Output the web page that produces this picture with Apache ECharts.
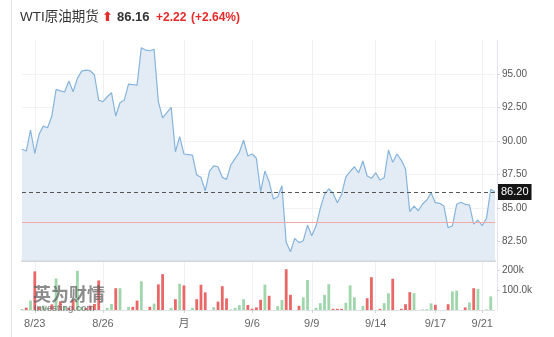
<!DOCTYPE html>
<html><head><meta charset="utf-8">
<script src="https://cdn.jsdelivr.net/npm/echarts@6/dist/echarts.min.js"></script>
<style>html,body{margin:0;padding:0;background:#fff}#c{width:554px;height:337px}</style>
</head><body><div id="c"></div>
<script>
// ---- data ----
const titleName = 'WTI原油期货';
const quotePrice = '86.16';
const quoteChange = '+2.22';
const quotePct = '(+2.64%)';

const prices = [
  89.39, 89.26, 90.83, 89.09, 90.51, 91.12, 91.00, 91.87, 93.86, 93.75,
  93.66, 94.48, 93.68, 94.68, 95.22, 95.30, 95.25, 94.93, 93.06, 92.94,
  93.31, 93.61, 91.87, 92.86, 93.06, 94.25, 94.22, 94.18, 96.96, 96.79,
  96.74, 96.84, 92.94, 91.74, 92.13, 92.52, 89.21, 90.33, 89.04, 89.00,
  88.96, 87.47, 87.30, 86.30, 87.77, 88.16, 88.09, 87.30, 87.15, 88.22,
  88.69, 89.16, 90.08, 88.89, 89.04, 88.72, 86.23, 87.77, 86.97, 85.68,
  85.85, 86.67, 82.46, 81.75, 82.75, 82.43, 82.57, 83.74, 82.95, 83.67,
  84.99, 86.03, 86.45, 86.11, 85.41, 86.03, 87.34, 87.72, 88.09, 87.64,
  88.52, 87.40, 87.23, 87.64, 87.10, 87.27, 89.34, 88.42, 89.04, 88.59,
  87.92, 84.74, 85.16, 84.81, 85.31, 85.61, 86.15, 85.41, 85.36, 85.16,
  83.54, 83.69, 85.29, 85.44, 85.29, 85.24, 83.82, 84.12, 83.69, 84.24,
  86.41, 86.20
];
// volume in thousands
const volumesK = [
  5, 12, 47, 193, 15, 22, 10, 28, 158, 43,
  20, 10, 52, 196, 15, 10, 22, 30, 148, 0,
  10, 30, 109, 109, 0, 15, 16, 47, 143, 0,
  16, 32, 128, 179, 0, 11, 54, 131, 123, 0,
  11, 54, 126, 88, 0, 14, 42, 119, 58, 3,
  10, 24, 54, 25, 6, 13, 51, 127, 71, 0,
  19, 50, 204, 76, 0, 21, 63, 150, 0, 11,
  34, 76, 129, 6, 6, 6, 36, 123, 63, 0,
  21, 59, 164, 0, 6, 34, 84, 156, 0, 6,
  29, 89, 84, 0, 3, 4, 33, 26, 0, 0,
  29, 93, 97, 0, 13, 38, 109, 105, 0, 3,
  68, 0
];
// r = red bar, g = green bar
const volumeDir = [
  'g','r','g','r','r','g','g','r','g','r',
  'g','r','r','g','g','r','r','r','r','g',
  'g','g','r','g','g','g','r','r','g','g',
  'r','g','r','r','g','g','r','g','r','g',
  'g','r','r','r','g','g','r','r','r','g',
  'g','g','g','r','r','r','r','g','r','g',
  'g','g','r','r','g','r','g','g','g','g',
  'g','g','g','r','r','r','g','g','g','g',
  'g','r','r','g','r','g','g','r','g','r',
  'r','r','g','g','g','g','g','r','g','g',
  'r','g','g','g','r','g','r','g','g','g',
  'g','g'
];
const xTickIndex = [3, 19, 38, 54, 68, 83, 97, 108];
const xTickLabels = ['8/23', '8/26', '月', '9/6', '9/9', '9/14', '9/17', '9/21'];
const priceTicks = [82.5, 85, 87.5, 90, 92.5, 95];
const volumeTicks = [100000, 200000];
const volumeTickLabels = ['100.0k', '200k'];
const lastPrice = 86.20;
const prevClose = 83.94;

// ---- chart ----
const RED = '#e96767', GREEN = '#9fd6ac';
const FONT = '"Liberation Sans", Arial, "Noto Sans CJK SC", sans-serif';
const cats = prices.map((_, i) => String(i));
const labelAt = {};
xTickIndex.forEach((k, j) => { labelAt[k] = xTickLabels[j]; });
const isTick = (i) => labelAt[i] !== undefined;
const volLabel = {};
volumeTicks.forEach((v, j) => { volLabel[v] = volumeTickLabels[j]; });

const chart = echarts.init(document.getElementById('c'), null, {renderer: 'canvas'});
const option = {
  animation: false,
  textStyle: {fontFamily: FONT},
  grid: [
    {left: 22, right: 59, top: 40, bottom: 76.5},
    {left: 22, right: 59, top: 261, bottom: 27}
  ],
  xAxis: [
    {type: 'category', gridIndex: 0, data: cats, boundaryGap: false,
     axisLine: {show: true, lineStyle: {color: '#d3d7dc', width: 2}},
     axisTick: {show: false}, axisLabel: {show: false},
     splitLine: {show: true, interval: (i) => isTick(i), lineStyle: {color: '#eef0f3'}}},
    {type: 'category', gridIndex: 1, data: cats, boundaryGap: false,
     axisLine: {show: true, lineStyle: {color: '#dfe2e6'}},
     axisTick: {show: true, interval: (i) => isTick(i), length: 3, lineStyle: {color: '#cfd3d8'}},
     axisLabel: {interval: (i) => isTick(i), formatter: (v, i) => labelAt[i] || '', color: '#666', fontSize: 11, margin: 8, fontFamily: FONT},
     splitLine: {show: true, interval: (i) => isTick(i), lineStyle: {color: '#eef0f3'}}}
  ],
  yAxis: [
    {type: 'value', gridIndex: 0, position: 'right', offset: 2, min: 81.1, max: 97.54,
     axisLine: {show: true, lineStyle: {color: '#e2e5e9'}},
     axisTick: {show: true, length: 3, customValues: priceTicks, lineStyle: {color: '#d5d8dc'}},
     axisLabel: {customValues: priceTicks, formatter: (v) => v.toFixed(2), color: '#555', fontSize: 10, margin: 5, fontFamily: FONT},
     splitLine: {show: true, customValues: priceTicks, lineStyle: {color: '#f1f2f4'}}},
    {type: 'value', gridIndex: 1, position: 'right', offset: 2, min: 0, max: 245000,
     axisLine: {show: true, lineStyle: {color: '#e2e5e9'}},
     axisTick: {show: true, length: 3, customValues: volumeTicks, lineStyle: {color: '#d5d8dc'}},
     axisLabel: {customValues: volumeTicks, formatter: (v) => volLabel[v] || '', color: '#555', fontSize: 10, margin: 5, fontFamily: FONT},
     splitLine: {show: false}}
  ],
  series: [
    {type: 'line', xAxisIndex: 0, yAxisIndex: 0, data: prices, symbol: 'none',
     lineStyle: {color: '#86b4db', width: 1.2},
     areaStyle: {color: '#e3ecf5', origin: 'start', opacity: 1},
     markLine: {symbol: 'none', silent: true, animation: false,
       data: [
         {yAxis: lastPrice, lineStyle: {type: [4, 3], color: '#555', width: 1},
          label: {show: true, position: 'end', distance: 3, formatter: lastPrice.toFixed(2),
                  backgroundColor: '#151515', color: '#fff', padding: [3, 3, 2, 3], fontSize: 11, fontFamily: FONT}},
         {yAxis: prevClose, lineStyle: {type: 'solid', color: '#f6a9a9', width: 1}, label: {show: false}}
       ]}},
    {type: 'bar', xAxisIndex: 1, yAxisIndex: 1, barWidth: 2.8,
     data: volumesK.map((v, i) => ({value: v * 1000, itemStyle: {color: volumeDir[i] === 'r' ? RED : GREEN}}))}
  ],
  graphic: [
    {type: 'line', shape: {x1: 11.5, y1: 0, x2: 11.5, y2: 337}, style: {stroke: '#e3e3e3', lineWidth: 1}, silent: true},
    {type: 'text', x: 20, y: 17.5, style: {text: titleName, font: '13.5px ' + FONT, fill: '#333', verticalAlign: 'middle'}},
    {type: 'text', x: 102, y: 17.5, style: {text: '⬆', font: 'bold 13px "DejaVu Sans"', fill: '#e62a2a', verticalAlign: 'middle'}},
    {type: 'text', x: 117, y: 17.5, style: {text: quotePrice, font: 'bold 13px ' + FONT, fill: '#333', verticalAlign: 'middle'}},
    {type: 'text', x: 156, y: 17.5, style: {text: quoteChange, font: 'bold 12px ' + FONT, fill: '#e62a2a', verticalAlign: 'middle'}},
    {type: 'text', x: 191, y: 17.5, style: {text: quotePct, font: 'bold 12px ' + FONT, fill: '#e62a2a', verticalAlign: 'middle'}},
    {type: 'text', x: 33, y: 285, z: 100, style: {text: '英为财情', font: 'bold 18px "Noto Sans CJK SC"', fill: 'rgba(95,95,95,0.72)'}},
    {type: 'text', x: 34, y: 304, z: 100, style: {text: 'Investing.com', font: 'bold 9px ' + FONT, fill: 'rgba(95,95,95,0.65)'}}
  ]
};
chart.setOption(option);
</script>
</body></html>
